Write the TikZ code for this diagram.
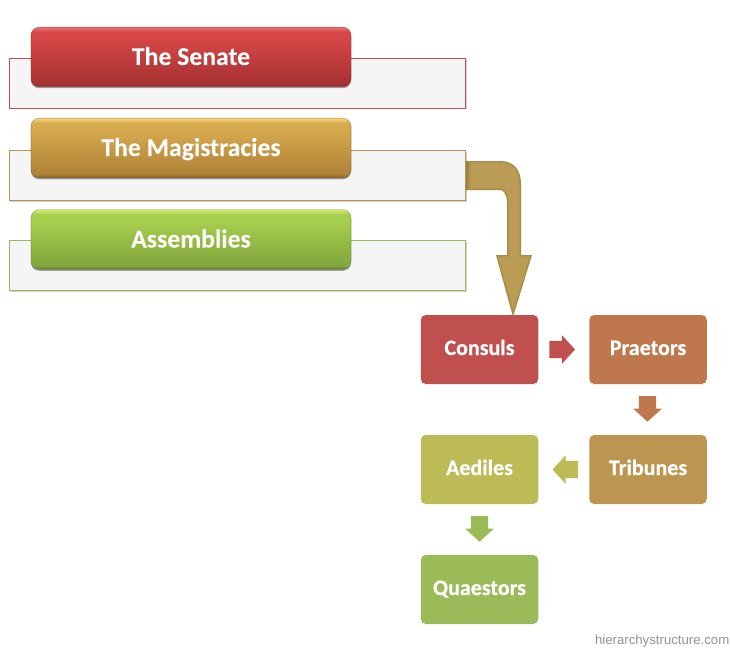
\documentclass[tikz,border=0pt]{standalone}
\usepackage{fontspec}
\setmainfont[BoldFeatures={FakeBold=0.4}]{Carlito}
\newfontfamily\wmfont{Liberation Sans}
\usetikzlibrary{shapes.arrows,shadows,calc}
\definecolor{cRed}{HTML}{C0504D}
\definecolor{cOrange}{HTML}{BF774E}
\definecolor{cTan}{HTML}{BC9650}
\definecolor{cOlive}{HTML}{BDBB56}
\definecolor{cGreen}{HTML}{9BBB59}
\definecolor{cBent}{HTML}{BA9C54}
\definecolor{rA}{HTML}{8A2A2A}\definecolor{rB}{HTML}{A83232}\definecolor{rC}{HTML}{D64646}\definecolor{rD}{HTML}{E97070}
\definecolor{gA}{HTML}{7D5C28}\definecolor{gB}{HTML}{AE8238}\definecolor{gC}{HTML}{D8AA4E}\definecolor{gD}{HTML}{F8D878}
\definecolor{vA}{HTML}{647D30}\definecolor{vB}{HTML}{82A63C}\definecolor{vC}{HTML}{A6CE4E}\definecolor{vD}{HTML}{D2EC6E}
\pgfdeclareverticalshading{glossred}{100bp}{color(0bp)=(rA);color(25bp)=(rA);color(28bp)=(rB);color(66bp)=(rC);color(71bp)=(rC);color(75bp)=(rD);color(100bp)=(rD)}
\pgfdeclareverticalshading{glossgold}{100bp}{color(0bp)=(gA);color(25bp)=(gA);color(28bp)=(gB);color(66bp)=(gC);color(71bp)=(gC);color(75bp)=(gD);color(100bp)=(gD)}
\pgfdeclareverticalshading{glossgreen}{100bp}{color(0bp)=(vA);color(25bp)=(vA);color(28bp)=(vB);color(66bp)=(vC);color(71bp)=(vC);color(75bp)=(vD);color(100bp)=(vD)}
\tikzset{
  x=1pt,y=-1pt,
  panel/.style={draw=#1,line width=.7pt,fill=black!4,minimum width=456.5pt,minimum height=50pt,inner sep=0pt,
    drop shadow={shadow xshift=1pt,shadow yshift=-1.5pt,opacity=.18,fill=black}},
  button/.style 2 args={shade,shading=#1,draw=#2,draw opacity=.45,line width=.6pt,rounded corners=8pt,minimum width=320pt,minimum height=59.5pt,inner sep=0pt,
    text=white,text height=16pt,text depth=0pt,font=\bfseries\fontsize{25.7}{25.7}\selectfont,
    drop shadow={shadow xshift=0pt,shadow yshift=-1.5pt,opacity=.35,fill=black}},
  flatbox/.style={fill=#1,rounded corners=5pt,minimum width=117.5pt,minimum height=69pt,inner sep=0pt,
    text=white,text height=11pt,text depth=0pt,font=\bfseries\fontsize{22}{22}\selectfont},
  smallarrow/.style={single arrow,fill=#1,inner sep=0pt,minimum height=25.5pt,
    single arrow head extend=5.5pt,single arrow tip angle=95,single arrow head indent=0pt},
}
\newcommand{\shaftbox}{\vrule width 0pt height 8.5pt depth 8.5pt}
\newcommand{\bentpath}{($(bs)+(0,-14)$) -- (500,161)
  .. controls (514,161) and (521,170) .. (521,184)
  -- (521,255) -- (532,255) -- (tip) -- (496,255) -- (507,255)
  -- (507,203) .. controls (507,195) and (504,190) .. (500,190)
  -- ($(bs)+(0,15)$) -- cycle}
\begin{document}
\begin{tikzpicture}
\useasboundingbox[fill=white] (0,0) rectangle (730,650);
% panels
\node[panel=cRed]  (p1) at (237.25,83) {};
\node[panel=cTan]  (p2) at (237.25,175) {};
\node[panel=cGreen](p3) at (237.25,265.75) {};
% buttons
\node[button={glossred}{rA}]   (senate) at (191,57)  {The Senate};
\node[button={glossgold}{gA}]  (magi)   at (191,148) {The Magistracies};
\node[button={glossgreen}{vA}] (assem)  at (191,239.5) {Assemblies};
% boxes
\node[flatbox=cRed]    (consuls)  at (479.5,349.5) {Consuls};
\node[flatbox=cOrange] (praetors) at (648,349.5) {Praetors};
\node[flatbox=cTan]    (tribunes) at (648,469.5) {Tribunes};
\node[flatbox=cOlive]  (aediles)  at (479.5,469.5) {Aediles};
\node[flatbox=cGreen]  (quaestors)at (479.5,589.5) {Quaestors};
% small arrows
\node[smallarrow=cRed,rotate=0]      (a1) at ($(consuls.east)!.5!(praetors.west)+(-5.5,0)$) {\shaftbox};
\node[smallarrow=cOrange,rotate=-90] (a2) at ($(praetors.south)!.5!(tribunes.north)+(-.5,-4.5)$) {\shaftbox};
\node[smallarrow=cOlive,rotate=180]  (a3) at ($(aediles.east)!.5!(tribunes.west)+(5.5,0)$) {\shaftbox};
\node[smallarrow=cGreen,rotate=-90]  (a4) at ($(aediles.south)!.5!(quaestors.north)+(0,-4.5)$) {\shaftbox};
% bent arrow from the Magistracies panel to Consuls
\coordinate (bs) at (p2.east);
\coordinate (tip) at ($(consuls.north)+(33.5,2)$);
\fill[cBent] \bentpath;
\begin{scope}
  \clip \bentpath;
  \draw[black!70!cBent,opacity=.07,line width=4pt] \bentpath;
  \draw[black!70!cBent,opacity=.07,line width=2pt] \bentpath;
\end{scope}
\shade[left color=black!18!cBent,right color=cBent,draw=none] ($(bs)+(.5,-13.5)$) rectangle ($(bs)+(5,14.5)$);
\node[anchor=east,text=black!42,inner sep=0pt,font=\wmfont\fontsize{13.2}{13.2}\selectfont] (wm) at (729.5,641) {hierarchystructure.com};
\end{tikzpicture}
\end{document}
